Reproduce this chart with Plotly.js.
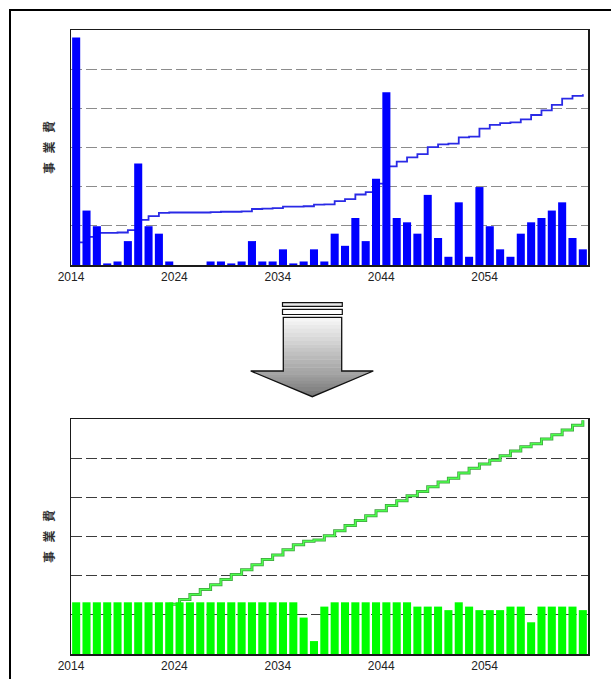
<!DOCTYPE html>
<html><head><meta charset="utf-8">
<script src="https://cdn.plot.ly/plotly-3.0.1.min.js"></script>
<style>html,body{margin:0;padding:0;background:#fff}#chart{width:611px;height:679px}</style>
</head><body><div id="chart"></div>
<script>
// ---- data ----
const years = [2014,2015,2016,2017,2018,2019,2020,2021,2022,2023,
               2024,2025,2026,2027,2028,2029,2030,2031,2032,2033,
               2034,2035,2036,2037,2038,2039,2040,2041,2042,2043,
               2044,2045,2046,2047,2048,2049,2050,2051,2052,2053,
               2054,2055,2056,2057,2058,2059,2060,2061,2062,2063];
const tickYears  = [2014,2024,2034,2044,2054];
const tickLabels = ['2014','2024','2034','2044','2054'];
const axisTitle  = '事\u2002\u2009業\u2002\u2009費';

// upper chart: annual cost (bars) and cumulative cost (step line)
const annualCost = [5.81,1.39,0.99,0.04,0.09,0.61,2.59,0.99,0.80,0.09,
                    0,0,0,0.09,0.09,0.04,0.09,0.61,0.09,0.09,
                    0.40,0.04,0.09,0.40,0.09,0.80,0.49,1.20,0.61,2.20,
                    4.41,1.20,1.09,0.80,1.79,0.69,0.21,1.60,0.21,1.99,
                    0.99,0.40,0.21,0.80,1.09,1.20,1.39,1.60,0.69,0.40];
const cumulativeCost = [0.58,0.72,0.82,0.82,0.83,0.89,1.15,1.25,1.33,1.34,
                        1.34,1.34,1.34,1.35,1.36,1.36,1.37,1.43,1.44,1.45,
                        1.49,1.49,1.50,1.54,1.55,1.63,1.68,1.80,1.86,2.08,
                        2.52,2.64,2.75,2.83,3.01,3.08,3.10,3.26,3.28,3.48,
                        3.58,3.62,3.64,3.72,3.83,3.95,4.09,4.25,4.32,4.36];

// lower chart: leveled annual cost (bars) and cumulative cost (step line)
const leveledCost = [1.32,1.32,1.32,1.32,1.32,1.32,1.32,1.32,1.32,1.32,
                     1.32,1.32,1.32,1.32,1.32,1.32,1.32,1.32,1.32,1.32,
                     1.32,1.32,0.93,0.33,1.21,1.32,1.32,1.32,1.32,1.32,
                     1.32,1.32,1.32,1.21,1.21,1.21,1.12,1.32,1.21,1.12,
                     1.12,1.12,1.21,1.21,0.81,1.21,1.21,1.21,1.21,1.12];
const leveledCumulative = [null,null,null,null,null,null,null,null,null,1.27,
                           1.39,1.52,1.65,1.77,1.90,2.03,2.15,2.28,2.41,2.53,
                           2.66,2.79,2.88,2.91,3.02,3.15,3.28,3.41,3.53,3.66,
                           3.79,3.91,4.04,4.15,4.27,4.39,4.49,4.62,4.74,4.85,
                           4.95,5.06,5.18,5.29,5.37,5.49,5.60,5.72,5.84,5.97];

// ---- layout geometry (pixels of the 611x679 page) ----
const W = 611, H = 679;
const L = 71, R = 588, T = 30, B = 654;
const topBottomPx = 265, lowTopPx = 419;
const px = x => (x - L) / (R - L);
const py = y => (B - y) / (B - T);
const P = (x, y) => px(x).toFixed(5) + ',' + py(y).toFixed(5);

const xc = years.map(y => y + 0.5);

const tickFont = {family: 'Liberation Sans, Arial, sans-serif', size: 12, color: '#222'};
const titleFont = {family: 'Noto Sans CJK JP, sans-serif', size: 12, color: '#333', weight: 700};

function xAxis(anchor) {
  return {anchor: anchor, domain: [0, 1], range: [2014, 2064], tickmode: 'array',
    tickvals: tickYears, ticktext: tickLabels, tickfont: tickFont, ticks: '',
    showgrid: false, zeroline: false, showline: true, mirror: true,
    linecolor: '#1a1a1a', linewidth: 1.5, fixedrange: true};
}
function yBase(anchor, dom, gridColor) {
  return {anchor: anchor, domain: dom, range: [0, 6], dtick: 1, tick0: 0,
    showticklabels: false, ticks: '', showgrid: true, gridcolor: gridColor,
    gridwidth: 1.3, griddash: '11px,4px', zeroline: false, showline: true, mirror: true,
    linecolor: '#1a1a1a', linewidth: 1.5,
    title: {text: axisTitle, font: titleFont, standoff: 12}};
}
function yOver(over, anchor) {
  return {overlaying: over, anchor: anchor, range: [0, 6], showgrid: false, zeroline: false,
    showline: false, showticklabels: false, ticks: ''};
}

const topDom = [py(topBottomPx), 1];
const lowDom = [0, py(lowTopPx)];

const traces = [
  {type: 'scatter', mode: 'lines', x: xc, y: cumulativeCost, xaxis: 'x', yaxis: 'y',
   line: {shape: 'hv', color: '#2a2ae6', width: 1.8}, hoverinfo: 'skip'},
  {type: 'bar', x: xc, y: annualCost, xaxis: 'x', yaxis: 'y3',
   marker: {color: '#0000ff', line: {width: 0}}, hoverinfo: 'skip'},
  {type: 'scatter', mode: 'lines', x: xc, y: leveledCumulative, xaxis: 'x2', yaxis: 'y2',
   line: {shape: 'hv', color: '#3f9f3f', width: 3}, hoverinfo: 'skip'},
  {type: 'scatter', mode: 'lines', x: xc, y: leveledCumulative, xaxis: 'x2', yaxis: 'y2',
   line: {shape: 'hv', color: '#4dff4d', width: 1.5}, hoverinfo: 'skip'},
  {type: 'bar', x: xc, y: leveledCost, xaxis: 'x2', yaxis: 'y4',
   marker: {color: '#00ff00', line: {width: 0}}, hoverinfo: 'skip'}
];

// ---- decorative shapes: outer frame and gradient arrow ----
const shapes = [];
shapes.push({type: 'rect', xref: 'paper', yref: 'paper', x0: px(10), x1: px(640),
  y0: py(700), y1: py(10), line: {color: '#000', width: 2}, fillcolor: 'rgba(0,0,0,0)', layer: 'below'});

const shaftL = 283.3, shaftR = 341.7, shaftT = 317.3, shaftB = 371;
const headL = 250.7, headR = 373.3, tipX = 312.3, tipY = 396.7;
const nS = 14;
for (let i = 0; i < nS; i++) {
  const y0 = shaftT + (shaftB - shaftT) * i / nS, y1 = shaftT + (shaftB - shaftT) * (i + 1) / nS + 0.3;
  const g = Math.round(246 - (246 - 168) * i / (nS - 1));
  shapes.push({type: 'path', xref: 'paper', yref: 'paper',
    path: 'M' + P(shaftL, y0) + 'L' + P(shaftR, y0) + 'L' + P(shaftR, y1) + 'L' + P(shaftL, y1) + 'Z',
    fillcolor: `rgb(${g},${g},${g})`, line: {width: 0}});
}
const nH = 8;
for (let i = 0; i < nH; i++) {
  const t0 = i / nH, t1 = Math.min(1, (i + 1) / nH + 0.02);
  const y0 = shaftB + (tipY - shaftB) * t0, y1 = shaftB + (tipY - shaftB) * t1;
  const l0 = headL + (tipX - headL) * t0, r0 = headR + (tipX - headR) * t0;
  const l1 = headL + (tipX - headL) * t1, r1 = headR + (tipX - headR) * t1;
  const g = Math.round(165 - (165 - 120) * i / (nH - 1));
  shapes.push({type: 'path', xref: 'paper', yref: 'paper',
    path: 'M' + P(l0, y0) + 'L' + P(r0, y0) + 'L' + P(r1, y1) + 'L' + P(l1, y1) + 'Z',
    fillcolor: `rgb(${g},${g},${g})`, line: {width: 0}});
}
shapes.push({type: 'path', xref: 'paper', yref: 'paper',
  path: 'M' + P(shaftL, shaftT) + 'L' + P(shaftR, shaftT) + 'L' + P(shaftR, shaftB) + 'L' + P(headR, shaftB) +
        'L' + P(tipX, tipY) + 'L' + P(headL, shaftB) + 'L' + P(shaftL, shaftB) + 'Z',
  fillcolor: 'rgba(0,0,0,0)', line: {color: '#111', width: 1.3}});
// two stripes above the arrow
shapes.push({type: 'rect', xref: 'paper', yref: 'paper', x0: px(282.5), x1: px(342.3), y0: py(306.3), y1: py(302.6),
  fillcolor: '#e8e8e8', line: {color: '#111', width: 1.2}});
shapes.push({type: 'rect', xref: 'paper', yref: 'paper', x0: px(282.5), x1: px(342.3), y0: py(314.5), y1: py(309.3),
  fillcolor: '#ffffff', line: {color: '#111', width: 1.2}});

const layout = {
  width: W, height: H, margin: {l: L, r: W - R, t: T, b: H - B, pad: 0},
  paper_bgcolor: '#fff', plot_bgcolor: 'rgba(0,0,0,0)', showlegend: false,
  bargap: 0.22, hovermode: false,
  xaxis: xAxis('y'), yaxis: yBase('x', topDom, '#8c8c8c'), yaxis3: yOver('y', 'x'),
  xaxis2: xAxis('y2'), yaxis2: yBase('x2', lowDom, '#3c3c3c'), yaxis4: yOver('y2', 'x2'),
  shapes: shapes
};

Plotly.newPlot('chart', traces, layout, {displayModeBar: false, staticPlot: true});
</script>
</body></html>
